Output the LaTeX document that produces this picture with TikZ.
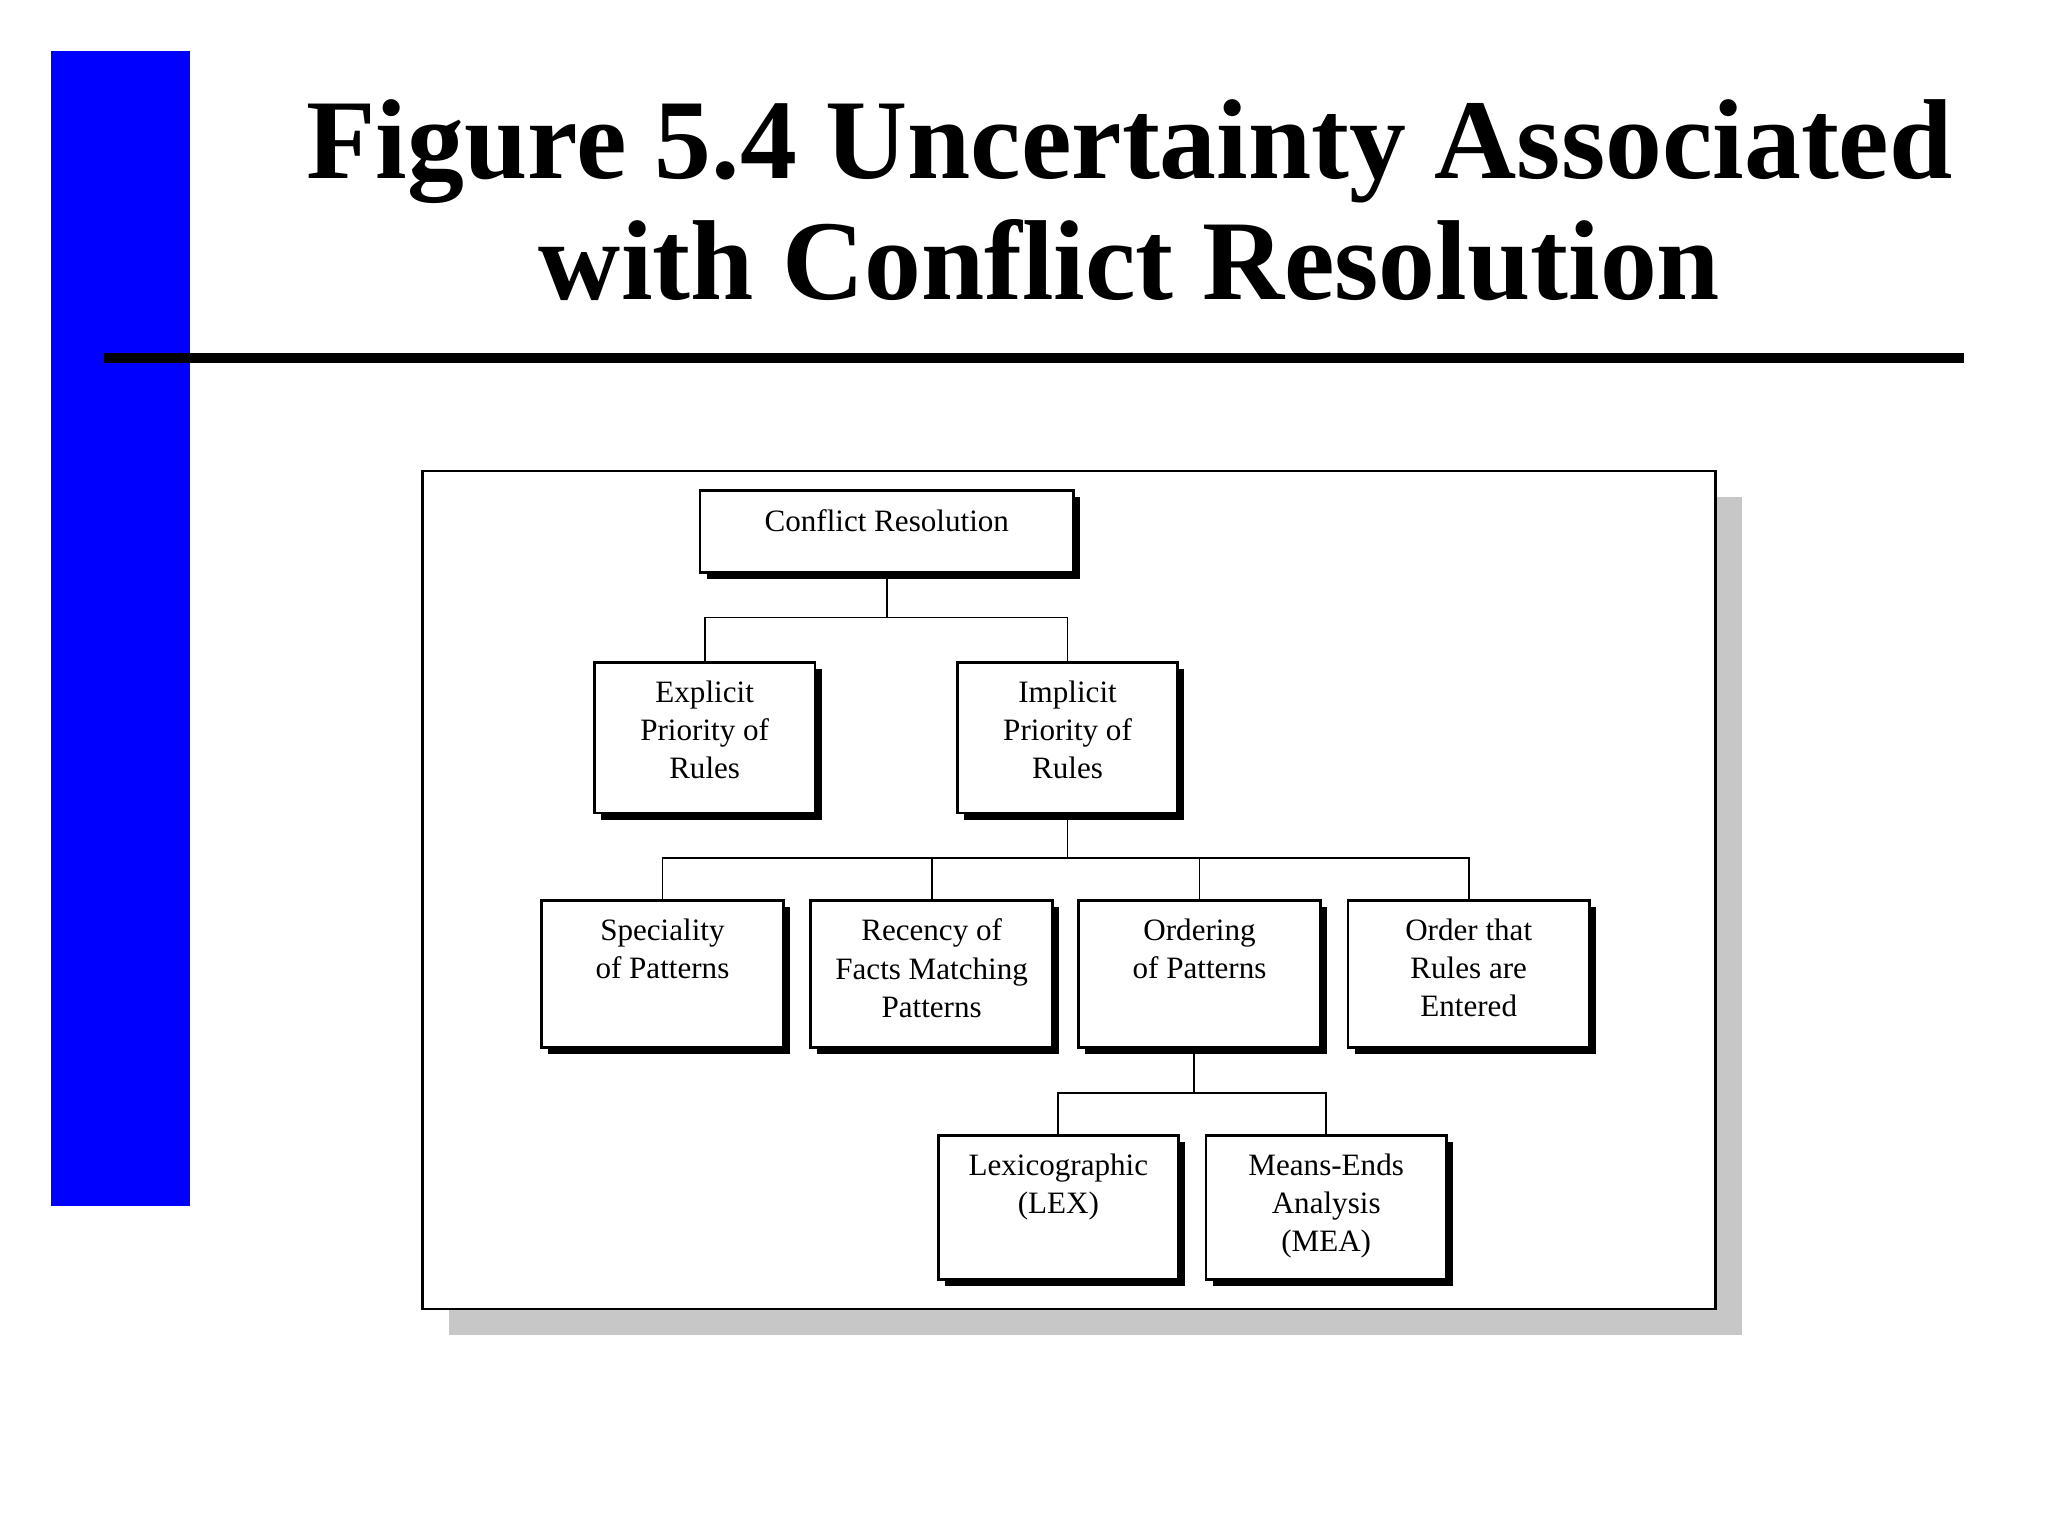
\documentclass[tikz,border=0pt]{standalone}
\usepackage{fontspec}
\setmainfont{Liberation Serif}
\usetikzlibrary{shadows}
\begin{document}
\begin{tikzpicture}[x=0.01cm,y=-0.01cm]
\tikzset{box/.style = {draw, line width=.6pt, fill=white, inner sep=0pt,
  general shadow={fill=black, shadow xshift=.05cm, shadow yshift=-.05cm}}}
\tikzset{edge/.style = {line width=.4pt}}
\newcommand{\boxtext}[3]{\parbox[c][#2cm][t]{#1cm}{\centering\fontsize{6.7}{8.2}\selectfont\vspace{0.14cm}#3}}

\useasboundingbox (0,0) rectangle (1552,1164);
\fill[blue] (39,39) rectangle (144,914);
\draw[line width=2.2pt] (79,271) -- (1488,271);
\node[font=\bfseries\fontsize{24.5}{26}\selectfont, align=center] (title) at (856,152)
  {Figure 5.4 Uncertainty Associated\\with Conflict Resolution};

% frame
\fill[black!22] (340,377) rectangle (1320,1012);
\draw[fill=white, line width=.6pt] (320,357) rectangle (1300,992);

\node[box] (cr) at (672,403) {\boxtext{2.83}{0.62}{Conflict Resolution}};
\node[box] (exp) at (534,559) {\boxtext{1.67}{1.14}{Explicit\\Priority of\\Rules}};
\node[box] (imp) at (809,559) {\boxtext{1.67}{1.14}{Implicit\\Priority of\\Rules}};
\node[box] (spe) at (502,738) {\boxtext{1.83}{1.11}{Speciality\\of Patterns}};
\node[box] (rec) at (706,738) {\boxtext{1.83}{1.11}{Recency of\\Facts Matching\\Patterns}};
\node[box] (ord) at (909,738) {\boxtext{1.83}{1.11}{Ordering\\of Patterns}};
\node[box] (ent) at (1113,738) {\boxtext{1.83}{1.11}{Order that\\Rules are\\Entered}};
\node[box] (lex) at (802,915) {\boxtext{1.82}{1.09}{Lexicographic\\(LEX)}};
\node[box] (mea) at (1005,915) {\boxtext{1.82}{1.09}{Means-Ends\\Analysis\\(MEA)}};

\coordinate (j1) at (672,468);
\coordinate (j2) at (809,650);
\coordinate (j3) at (905,828);
\draw[edge] (cr.south) -- (j1);
\draw[edge] (exp.north) |- (j1) -| (imp.north);
\draw[edge] (imp.south) -- (j2);
\foreach \n in {spe, rec, ord, ent}
  {\draw[edge] (j2) -| (\n.north);}
\draw[edge] (ord.south -| j3) -- (j3);
\foreach \n in {lex, mea}
  {\draw[edge] (j3) -| (\n.north);}
\end{tikzpicture}
\end{document}
